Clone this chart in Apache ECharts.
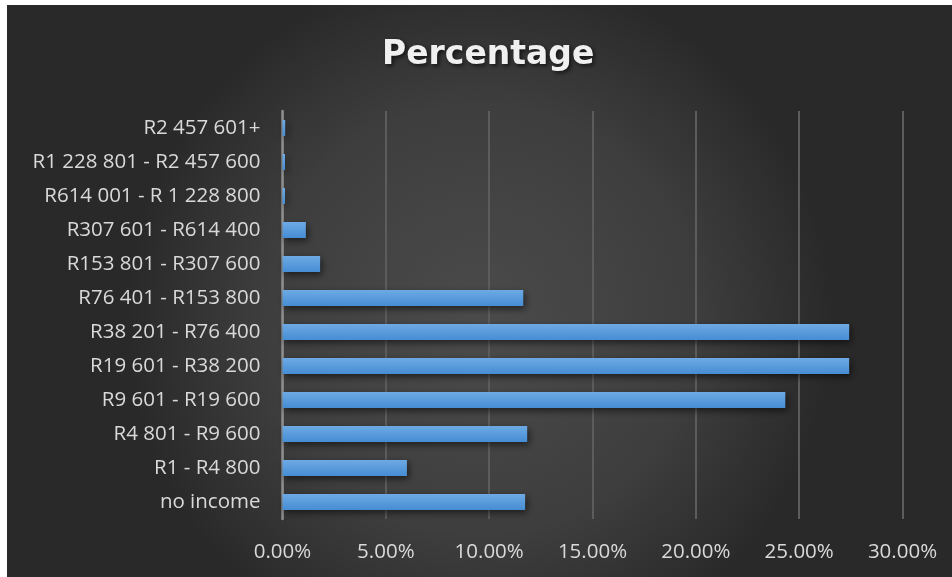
<!DOCTYPE html>
<html>
<head>
<meta charset="utf-8">
<script src="https://cdn.jsdelivr.net/npm/echarts@6/dist/echarts.min.js"></script>
<style>
  html, body { margin: 0; padding: 0; background: #ffffff; }
  #chart { width: 952px; height: 577px; }
</style>
</head>
<body>
<div id="chart"></div>
<script>
// Income bands, listed from the bottom of the axis to the top
const categories = [
  'no income',
  'R1 - R4 800',
  'R4 801 - R9 600',
  'R9 601 - R19 600',
  'R19 601 - R38 200',
  'R38 201 - R76 400',
  'R76 401 - R153 800',
  'R153 801 - R307 600',
  'R307 601 - R614 400',
  'R614 001 - R 1 228 800',
  'R1 228 801 - R2 457 600',
  'R2 457 601+'
];

// Share of households in each band (percent)
const percentages = [11.74, 6.02, 11.84, 24.33, 27.42, 27.42, 11.65, 1.82, 1.13, 0.12, 0.12, 0.13];

// Value axis range and step (percent)
const axisMin = 0;
const axisMax = 30;
const axisStep = 5;

const chart = echarts.init(document.getElementById('chart'), null, { renderer: 'canvas' });

const labelFont = '"Open Sans", "Noto Sans", sans-serif';

chart.setOption({
  backgroundColor: '#ffffff',
  animation: false,
  graphic: [{
    type: 'rect',
    z: -10,
    silent: true,
    shape: { x: 7, y: 5, width: 945, height: 572 },
    style: {
      fill: new echarts.graphic.RadialGradient(0.5, 0.55, 0.62, [
        { offset: 0, color: '#4b4b4b' },
        { offset: 0.6, color: '#3e3e3e' },
        { offset: 1, color: '#292929' }
      ])
    }
  }],
  title: {
    text: 'Percentage',
    left: 377,
    top: 34,
    textStyle: {
      color: '#f0f0f0',
      fontFamily: '"DejaVu Sans", sans-serif',
      fontWeight: 'bold',
      fontSize: 33,
      textShadowColor: 'rgba(0,0,0,0.65)',
      textShadowBlur: 4,
      textShadowOffsetX: 2,
      textShadowOffsetY: 2
    }
  },
  grid: {
    left: 282.5,
    right: 49.5,
    top: 111,
    bottom: 58,
    containLabel: false
  },
  xAxis: {
    type: 'value',
    min: axisMin,
    max: axisMax,
    interval: axisStep,
    axisLine: { show: false },
    axisTick: { show: false },
    axisLabel: {
      color: '#d9d9d9',
      fontFamily: labelFont,
      fontSize: 20.5,
      margin: 23,
      formatter: v => v.toFixed(2) + '%'
    },
    splitLine: {
      show: true,
      lineStyle: { color: '#5c5c5c', width: 2 }
    }
  },
  yAxis: {
    type: 'category',
    data: categories,
    axisLine: {
      show: true,
      lineStyle: { color: '#8e8e8e', width: 2.5 }
    },
    axisTick: { show: false },
    axisLabel: {
      color: '#d9d9d9',
      fontFamily: labelFont,
      fontSize: 20.5,
      margin: 22
    },
    splitLine: { show: false }
  },
  series: [{
    type: 'bar',
    data: percentages,
    barWidth: 16,
    itemStyle: {
      color: new echarts.graphic.LinearGradient(0, 0, 0, 1, [
        { offset: 0, color: '#6eaae3' },
        { offset: 1, color: '#468dd4' }
      ]),
      shadowColor: 'rgba(0,0,0,0.55)',
      shadowBlur: 7,
      shadowOffsetX: 2,
      shadowOffsetY: 3
    }
  }]
});
</script>
</body>
</html>
